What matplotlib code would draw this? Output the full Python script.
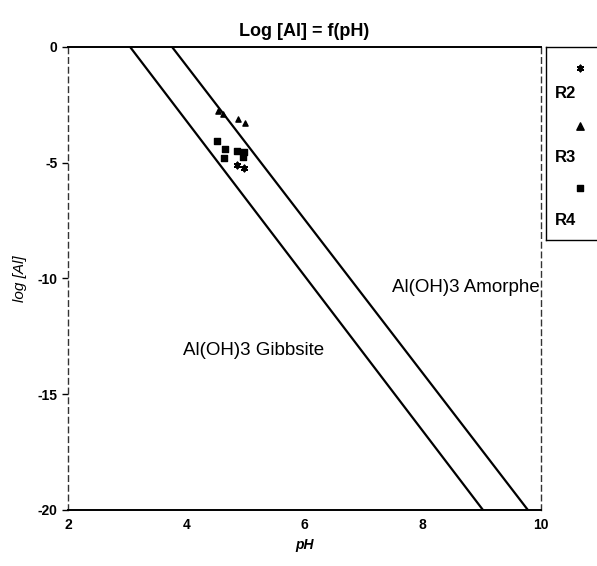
import matplotlib.pyplot as plt
import numpy as np

plt.rcParams['font.family'] = ['Liberation Sans', 'DejaVu Sans']
plt.rcParams['axes.unicode_minus'] = False

# solubility lines: pH at log[Al] = 0 and at log[Al] = -20
gibbsite_ph = [3.05, 9.02]
amorphe_ph = [3.76, 9.78]
line_logal = [0, -20]

# sample points (pH, log[Al])
r2_ph = [4.86, 4.98]
r2_logal = [-5.10, -5.23]
r3_ph = [4.54, 4.62, 4.88, 5.00]
r3_logal = [-2.78, -2.90, -3.12, -3.28]
r4_ph = [4.52, 4.66, 4.64, 4.86, 4.98, 4.96]
r4_logal = [-4.06, -4.41, -4.79, -4.49, -4.55, -4.75]

x_ticks = [2, 4, 6, 8, 10]
y_ticks = [0, -5, -10, -15, -20]

fig = plt.figure(figsize=(5.97, 5.66), dpi=100)
ax = fig.add_axes([0.114, 0.099, 0.792, 0.818])

ax.plot(gibbsite_ph, line_logal, color='black', lw=1.6)
ax.plot(amorphe_ph, line_logal, color='black', lw=1.6)

ax.scatter(r2_ph, r2_logal, marker=(6, 2, 0), s=18, color='black', linewidths=1.4)
ax.scatter(r3_ph, r3_logal, marker='^', s=14, color='black')
ax.scatter(r4_ph, r4_logal, marker='s', s=16, color='black')

ax.text(7.48, -10.4, 'Al(OH)3 Amorphe', fontsize=13.5, va='center')
ax.text(3.95, -13.1, 'Al(OH)3 Gibbsite', fontsize=13.5, va='center')

ax.set_xlim(2, 10)
ax.set_ylim(-20, 0)
ax.set_xticks(x_ticks)
ax.set_yticks(y_ticks)
ax.tick_params(axis='x', length=0, pad=6, labelsize=10)
ax.tick_params(axis='y', length=4, width=1, labelsize=10)
for lab in ax.get_xticklabels() + ax.get_yticklabels():
    lab.set_fontweight('bold')

for side in ['top', 'bottom']:
    ax.spines[side].set_linewidth(1.4)
for side in ['left', 'right']:
    ax.spines[side].set_linewidth(1.0)
    ax.spines[side].set_linestyle((0, (4, 3)))
    ax.spines[side].set_color('#333333')

ax.set_title('Log [Al] = f(pH)', fontsize=13, fontweight='bold', pad=8)
ax.set_xlabel('pH', fontsize=10, fontstyle='italic', fontweight='bold')
ax.set_ylabel('log [Al]', fontsize=11, fontstyle='italic', labelpad=8)

# legend box with markers above the names
leg = fig.add_axes([546 / 597, 1 - 240 / 566, 70 / 597, 193 / 566])
leg.set_xlim(0, 1)
leg.set_ylim(0, 1)
leg.set_xticks([])
leg.set_yticks([])
leg.spines['right'].set_visible(False)
for side in ['left', 'top', 'bottom']:
    leg.spines[side].set_linewidth(1.0)
leg.scatter([0.48], [0.89], marker=(6, 2, 0), s=18, color='black', linewidths=1.4)
leg.scatter([0.48], [0.59], marker='^', s=28, color='black')
leg.scatter([0.48], [0.27], marker='s', s=18, color='black')
leg.text(0.12, 0.76, 'R2', fontsize=12, fontweight='bold', va='center')
leg.text(0.12, 0.43, 'R3', fontsize=12, fontweight='bold', va='center')
leg.text(0.12, 0.10, 'R4', fontsize=12, fontweight='bold', va='center')

fig.savefig('out.png', dpi=100)
